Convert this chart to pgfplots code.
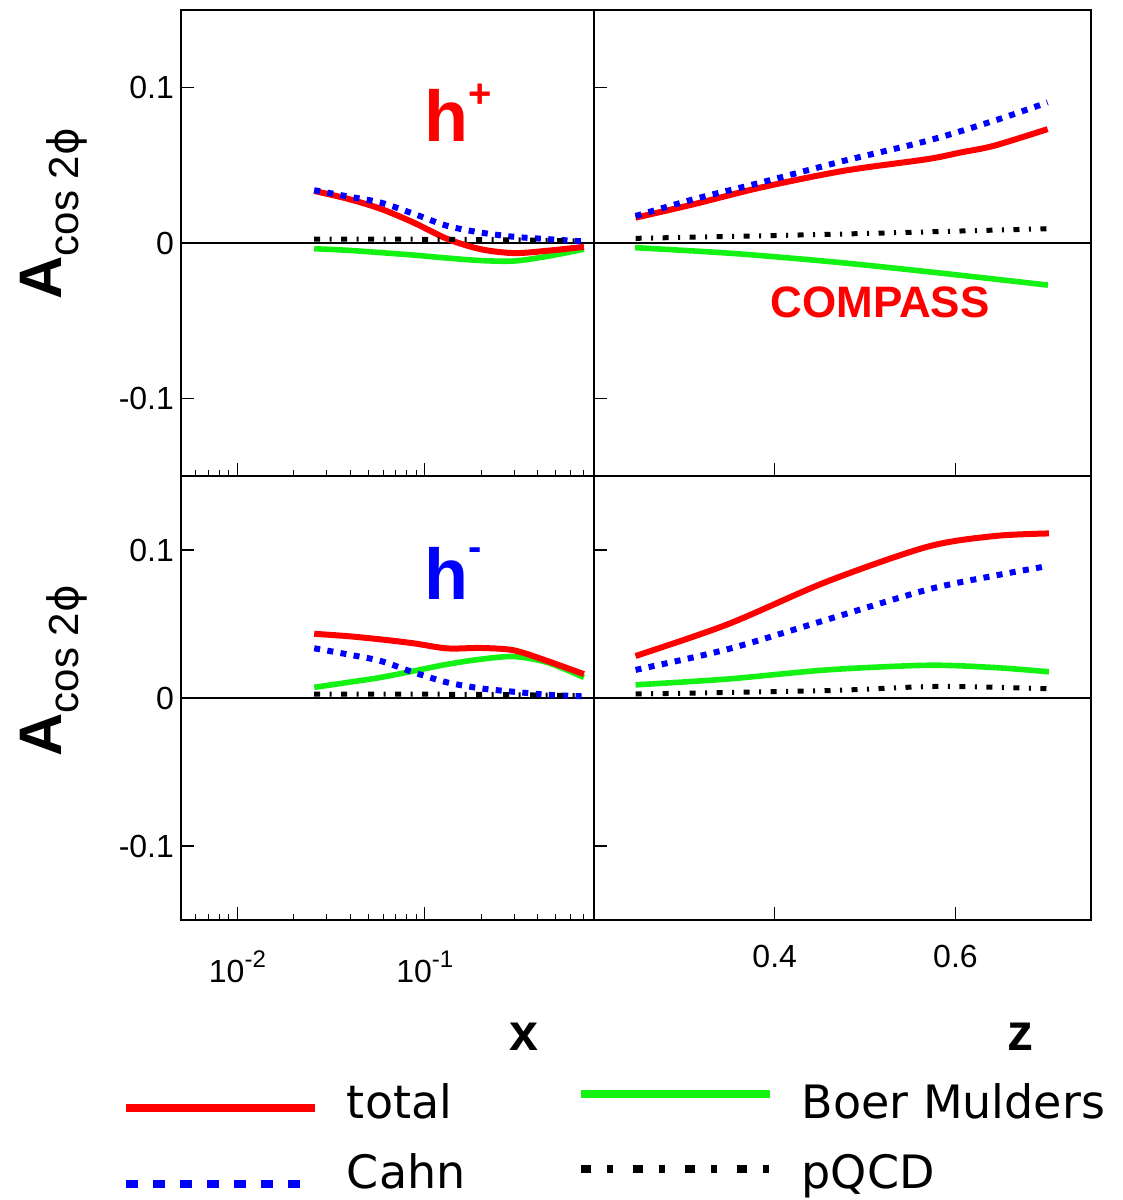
\documentclass[border=0pt]{standalone}
\usepackage{fontspec}
\setmainfont{Liberation Sans}
\newfontfamily\dejavu{DejaVu Sans}
\usepackage{pgfplots}
\pgfplotsset{compat=1.18}

\definecolor{tred}{rgb}{1,0,0}
\definecolor{tblue}{rgb}{0,0,1}
\definecolor{tgreen}{rgb}{0.08,0.95,0.08}

\pgfplotsset{
 panel/.style={scale only axis, ymin=-0.15, ymax=0.15, ytick={-0.1,0,0.1},
   tick align=inside, xtick pos=left, ytick pos=left,
   axis line style={black, line width=0.8pt},
   major tick length=6.5pt, minor tick length=3pt,
   tick style={black, line width=0.6pt},
   tick label style={font=\fontsize{16}{18}\selectfont}},
 logpanel/.style={panel, xmin=0.005, xmax=0.8, xtick={0.01,0.1},
   minor xtick={0.006,0.007,0.008,0.009,0.02,0.03,0.04,0.05,0.06,0.07,0.08,0.09,0.2,0.3,0.4,0.5,0.6,0.7},
   width=206.5pt, yticklabels={-0.1,0,0.1}},
 zpanel/.style={panel, xmin=0.2, xmax=0.75, xtick={0.4,0.6}, width=248.5pt, yticklabels={}},
 ctotal/.style={tred, line width=3pt, smooth},
 ccahn/.style={tblue, line width=3pt, dash pattern=on 3pt off 3.67pt, smooth},
 cbm/.style={tgreen, line width=2.8pt, smooth},
 cpqcd/.style={black, line width=2.5pt, dash pattern=on 3pt off 4.75pt on 1pt off 4.75pt, smooth},
}

\begin{document}
\begin{tikzpicture}
\path[use as bounding box] (0pt,0pt) rectangle (561.5pt,600pt);

% ---------------- top left (h+, x) ----------------
\begin{semilogxaxis}[logpanel, at={(90.5pt,362pt)}, anchor=south west, height=233pt, xticklabels={}]
\addplot[black, line width=0.6pt, forget plot] coordinates {(0.005,0) (0.8,0)};
\addplot[cbm] coordinates {(0.0257,-0.0037) (0.0387,-0.0047) (0.0582,-0.0062) (0.0877,-0.0078) (0.132,-0.0097) (0.199,-0.0113) (0.299,-0.0116) (0.451,-0.0086) (0.707,-0.0040)};
\addplot[ctotal] coordinates {(0.0257,0.0335) (0.0387,0.0285) (0.0582,0.0220) (0.0877,0.0130) (0.132,0.0026) (0.199,-0.0040) (0.299,-0.0065) (0.451,-0.0050) (0.707,-0.0025)};
\addplot[ccahn] coordinates {(0.0257,0.0340) (0.0387,0.0300) (0.0582,0.0260) (0.0877,0.0187) (0.132,0.0110) (0.199,0.0067) (0.299,0.0040) (0.451,0.0025) (0.707,0.0010)};
\addplot[cpqcd] coordinates {(0.0257,0.0025) (0.1,0.0024) (0.3,0.0020) (0.707,0.0013)};
\end{semilogxaxis}

% ---------------- top right (h+, z) ----------------
\begin{axis}[zpanel, at={(297pt,362pt)}, anchor=south west, height=233pt, xticklabels={}]
\addplot[black, line width=0.6pt, forget plot] coordinates {(0.2,0) (0.75,0)};
\addplot[cbm] coordinates {(0.2454,-0.0030) (0.3579,-0.0069) (0.4741,-0.0127) (0.5903,-0.0198) (0.7024,-0.0271)};
\addplot[ctotal] coordinates {(0.246,0.0163) (0.3106,0.0250) (0.3845,0.0357) (0.4767,0.0465) (0.569,0.0540) (0.606,0.0583) (0.6427,0.0626) (0.702,0.0733)};
\addplot[ccahn] coordinates {(0.246,0.0174) (0.3106,0.0282) (0.3845,0.0389) (0.4767,0.0529) (0.569,0.0658) (0.6427,0.0787) (0.702,0.0905)};
\addplot[cpqcd] coordinates {(0.246,0.0030) (0.47,0.0057) (0.702,0.0092)};
\end{axis}

% ---------------- bottom left (h-, x) ----------------
\begin{semilogxaxis}[logpanel, at={(90.5pt,140pt)}, anchor=south west, height=222pt,
  xticklabels={{10\raisebox{7.5pt}{\fontsize{12}{12}\selectfont -2}},{10\raisebox{7.5pt}{\fontsize{12}{12}\selectfont -1}}},
  xticklabel style={anchor=base, yshift=-31pt}]
\addplot[black, line width=0.6pt, forget plot] coordinates {(0.005,0) (0.8,0)};
\addplot[cbm] coordinates {(0.0257,0.0072) (0.0387,0.0105) (0.0582,0.0139) (0.0877,0.0183) (0.132,0.0228) (0.199,0.0262) (0.299,0.0280) (0.451,0.0240) (0.707,0.0139)};
\addplot[ctotal] coordinates {(0.0257,0.0434) (0.0387,0.0418) (0.0582,0.0396) (0.0877,0.0369) (0.132,0.0335) (0.199,0.0338) (0.299,0.0322) (0.451,0.0250) (0.707,0.0161)};
\addplot[ccahn] coordinates {(0.0257,0.0336) (0.0387,0.0295) (0.0582,0.0250) (0.0877,0.0172) (0.132,0.0105) (0.199,0.0065) (0.299,0.0042) (0.451,0.0022) (0.707,0.0011)};
\addplot[cpqcd] coordinates {(0.0257,0.0027) (0.1,0.0026) (0.3,0.0022) (0.707,0.0015)};
\end{semilogxaxis}

% ---------------- bottom right (h-, z) ----------------
\begin{axis}[zpanel, at={(297pt,140pt)}, anchor=south west, height=222pt,
  xticklabels={0.4,0.6}, xticklabel style={anchor=base, yshift=-23.75pt},
  legend columns=2, legend cell align=left,
  legend image code/.code={\draw[#1] (0pt,0pt) -- (94.5pt,0pt);},
  legend style={at={(-0.9497,-0.3694)}, anchor=north west, draw=none, fill=none,
    inner sep=0pt, outer sep=0pt, row sep=13pt,
    font=\dejavu\fontsize{23}{26}\selectfont,
    nodes={inner sep=0pt, text height=17pt, text depth=5pt},
    /tikz/every odd column/.append style={column sep=14pt},
    /tikz/every even column/.append style={column sep=55.5pt}}]
\addplot[black, line width=0.6pt, forget plot] coordinates {(0.2,0) (0.75,0)};
\addplot[ctotal, legend image post style={line width=4pt, yshift=-1pt}] coordinates {(0.246,0.0284) (0.3475,0.0497) (0.458,0.0787) (0.569,0.1022) (0.6427,0.1094) (0.7035,0.1112)};
\addlegendentry{total}
\addplot[cbm, legend image post style={line width=3.8pt, yshift=6pt}] coordinates {(0.246,0.0089) (0.3475,0.0128) (0.458,0.0190) (0.569,0.0221) (0.6427,0.0206) (0.7035,0.0177)};
\addlegendentry{Boer Mulders}
\addplot[ccahn, legend image post style={line width=4pt, dash pattern=on 6pt off 7.5pt, yshift=-4pt}] coordinates {(0.246,0.0190) (0.3475,0.0329) (0.458,0.0530) (0.569,0.0732) (0.6427,0.0826) (0.7035,0.0893)};
\addlegendentry{Cahn}
\addplot[cpqcd, legend image post style={line width=4pt, dash pattern=on 5pt off 8pt on 3pt off 10pt, yshift=3.5pt}] coordinates {(0.246,0.0027) (0.458,0.0050) (0.58,0.0078) (0.7035,0.0062)};
\addlegendentry{pQCD}
\end{axis}

% ---------------- labels ----------------
\node[rotate=90, anchor=base west, inner sep=0pt] at (31pt,450pt)
  {\fontsize{30}{30}\selectfont\bfseries A\raisebox{-8pt}{\mdseries\fontsize{21}{21}\selectfont cos 2{\dejavu ϕ}}};
\node[rotate=90, anchor=base west, inner sep=0pt] at (31pt,221.5pt)
  {\fontsize{30}{30}\selectfont\bfseries A\raisebox{-8pt}{\mdseries\fontsize{21}{21}\selectfont cos 2{\dejavu ϕ}}};
\node[anchor=base west, inner sep=0pt, text=tred] at (212pt,529pt)
  {\fontsize{36}{36}\selectfont\bfseries h\raisebox{17pt}{\fontsize{20}{20}\selectfont +}};
\node[anchor=base west, inner sep=0pt, text=tblue] at (212pt,300pt)
  {\fontsize{36}{36}\selectfont\bfseries h\raisebox{19.5pt}{\fontsize{20}{20}\selectfont -}};
\node[anchor=base west, inner sep=0pt, text=tred] at (385pt,441pt)
  {\fontsize{22}{22}\selectfont\bfseries COMPASS};
\node[anchor=base west, inner sep=0pt] at (254.5pt,74.5pt) {\fontsize{26}{26}\selectfont\bfseries x};
\node[anchor=base west, inner sep=0pt] at (503.5pt,74.5pt) {\fontsize{26}{26}\selectfont\bfseries z};
\end{tikzpicture}
\end{document}
